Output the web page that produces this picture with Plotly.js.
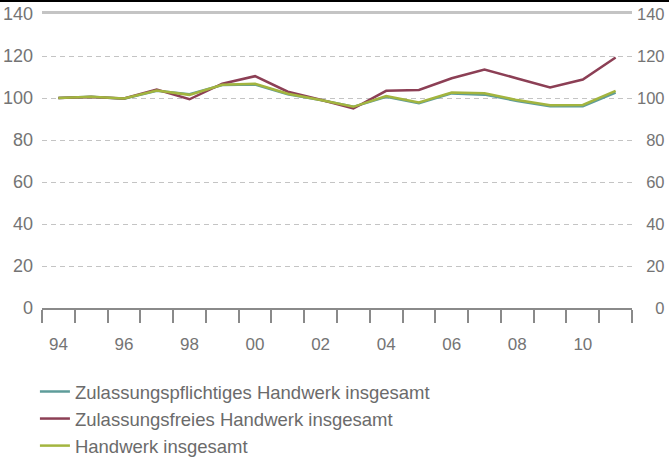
<!DOCTYPE html>
<html>
<head>
<meta charset="utf-8">
<script src="https://cdn.plot.ly/plotly-3.0.1.min.js"></script>
<style>
  body { margin: 0; background: #fff; }
  #chart { width: 669px; height: 455px; border-top: 2px solid #000; }
</style>
</head>
<body>
<div id="chart"></div>
<script>
// Index (1994 = 100), Handwerk nach Zulassungspflicht
const years = [1994, 1995, 1996, 1997, 1998, 1999, 2000, 2001, 2002,
               2003, 2004, 2005, 2006, 2007, 2008, 2009, 2010, 2011];
const pflichtig = [100, 100.6, 99.7, 103.4, 101.8, 106.2, 106.4, 101.8, 99,
                   95.8, 100.6, 97.5, 102.2, 101.6, 98.6, 96.1, 96.1, 102.6];
const frei = [100, 100.5, 99.8, 104, 99.4, 106.8, 110.4, 103, 99.2,
              95, 103.4, 103.8, 109.4, 113.6, 109.3, 105, 108.8, 119.3];
const gesamt = [100, 100.6, 99.8, 103.6, 101.5, 106.3, 106.8, 102, 99,
                95.8, 100.9, 97.9, 102.6, 102.3, 99, 96.6, 96.7, 103.4];

const seriesNames = ['Zulassungspflichtiges Handwerk insgesamt',
                     'Zulassungsfreies Handwerk insgesamt',
                     'Handwerk insgesamt'];
const seriesColors = ['#5e9c9a', '#8c3f55', '#a3b53f'];

const xLabelYears = [1994, 1996, 1998, 2000, 2002, 2004, 2006, 2008, 2010];
const xLabels = xLabelYears.map(y => String(y % 100).padStart(2, '0'));
const yTicks = [0, 20, 40, 60, 80, 100, 120, 140];
// rechte Achse: rechtsbündig über Ziffernleerzeichen
const yTicksRight = yTicks.map(v => String(v).padStart(3, '\u2007'));

const FONT = '"Liberation Sans", sans-serif';
const GREY = '#747474';

const traces = [pflichtig, frei, gesamt].map((vals, i) => ({
    x: years,
    y: vals,
    type: 'scatter',
    mode: 'lines',
    name: seriesNames[i],
    line: { color: seriesColors[i], width: 2.5 }
}));

// unsichtbare Spur fuer die rechte Achse
traces.push({
    x: [years[0]], y: [0], xaxis: 'x2', yaxis: 'y2',
    mode: 'markers', marker: { opacity: 0 },
    showlegend: false, hoverinfo: 'skip'
});

const layout = {
    width: 669,
    height: 455,
    margin: { l: 42, r: 37, t: 12, b: 149, autoexpand: false },
    paper_bgcolor: '#fff',
    plot_bgcolor: '#fff',
    font: { family: FONT, size: 18, color: GREY },
    showlegend: true,
    legend: {
        x: -0.012, xanchor: 'left',
        y: -0.221, yanchor: 'top',
        orientation: 'v',
        font: { family: FONT, size: 18.5, color: '#6b6b6b' },
        itemwidth: 30,
        tracegroupgap: 0
    },
    xaxis: {
        range: [1993.5, 2011.5],
        tickmode: 'array',
        tickvals: xLabelYears,
        ticktext: xLabels,
        ticks: '',
        ticklabelstandoff: 20,
        tickfont: { size: 17 },
        showgrid: false,
        zeroline: false,
        showline: true,
        linecolor: '#8a8a8a',
        linewidth: 2,
        minor: {
            tickmode: 'array',
            tickvals: years.map(y => y - 0.5).concat([years[years.length - 1] + 0.5]),
            ticks: 'outside',
            ticklen: 13,
            tickwidth: 2,
            tickcolor: '#8a8a8a',
            showgrid: false
        }
    },
    xaxis2: {
        overlaying: 'x',
        side: 'top',
        range: [1993.5, 2011.5],
        showticklabels: false,
        ticks: '',
        showgrid: false,
        zeroline: false,
        showline: true,
        linecolor: '#c4c4c4',
        linewidth: 3
    },
    yaxis: {
        range: [0, 140],
        tickmode: 'array',
        tickvals: yTicks,
        ticks: '',
        ticklabelstandoff: 8,
        showgrid: true,
        gridcolor: '#c4c4c4',
        gridwidth: 1,
        griddash: '5px,4px',
        zeroline: false,
        showline: false
    },
    yaxis2: {
        overlaying: 'y',
        side: 'right',
        range: [0, 140],
        tickmode: 'array',
        tickvals: yTicks,
        ticktext: yTicksRight,
        ticks: '',
        ticklabelstandoff: 4,
        tickfont: { size: 16.5 },
        showgrid: false,
        zeroline: false,
        showline: false
    }
};

Plotly.newPlot('chart', traces, layout, { staticPlot: true, displayModeBar: false });
</script>
</body>
</html>
